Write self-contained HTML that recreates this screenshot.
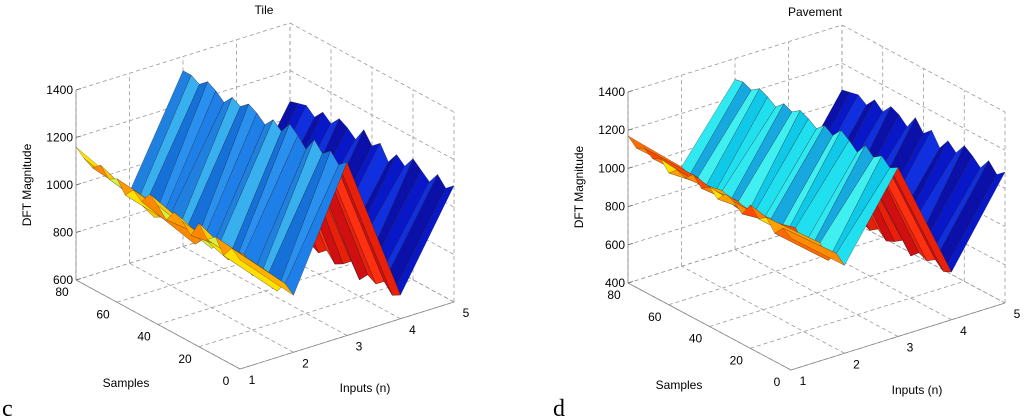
<!DOCTYPE html>
<html><head><meta charset="utf-8"><style>
html,body{margin:0;padding:0;background:#fff;}
svg{display:block;font-family:"Liberation Sans",Arial,sans-serif;}
</style></head><body>
<svg id="c" width="1024" height="418" viewBox="0 0 1024 418" xmlns="http://www.w3.org/2000/svg">
<text x="264" y="14" font-size="12" text-anchor="middle">Tile</text>
<text x="815" y="16" font-size="12" text-anchor="middle">Pavement</text>
<text x="31" y="185" font-size="12" text-anchor="middle" transform="rotate(-90 31 185)">DFT Magnitude</text>
<text x="583" y="187" font-size="12" text-anchor="middle" transform="rotate(-90 583 187)">DFT Magnitude</text>
<text x="126" y="387" font-size="12" text-anchor="middle">Samples</text>
<text x="679" y="389" font-size="12" text-anchor="middle">Samples</text>
<text x="365" y="392" font-size="12" text-anchor="middle">Inputs (n)</text>
<text x="917" y="394" font-size="12" text-anchor="middle">Inputs (n)</text>
<text x="2" y="416" font-size="24" font-family="Liberation Serif,serif">c</text>
<text x="553" y="416" font-size="24" font-family="Liberation Serif,serif">d</text>
<g id="g1"></g>
<g id="g2"></g>
</svg>
<script>
const sampleTicks=[0,20,40,60,80];
const inputTicks=[1,2,3,4,5];
const sampleValues=[0,4,8,12,16,20,24,28,32,36,40,44,48,52,56,60,64,68,72,76,80];
const tileZTicks=[600,800,1000,1200,1400];
const paveZTicks=[400,600,800,1000,1200,1400];
const tileN1=[1060,1090,1040,1100,1070,1120,1050,1090,1110,1060,1100,1130,1080,1110,1070,1120,1100,1140,1110,1130,1160];
const tileN2=[840,870,820,880,850,830,900,860,840,890,850,870,830,880,860,900,870,850,890,880,900];
const tileN3=[1330,1300,1340,1310,1350,1290,1330,1360,1310,1340,1300,1330,1350,1320,1340,1300,1330,1350,1320,1340,1340];
const tileN4=[700,680,720,690,710,670,730,700,680,720,690,710,740,700,680,720,700,690,710,700,690];
const tileN5=[1090,1060,1100,1050,1080,1110,1060,1090,1040,1100,1070,1120,1060,1090,1110,1070,1100,1060,1090,1080,1070];
const paveN1=[1090,1120,1070,1130,1100,1150,1080,1120,1140,1090,1130,1100,1150,1110,1130,1090,1140,1120,1150,1130,1170];
const paveN2=[860,900,840,910,870,850,920,880,860,900,870,890,850,900,880,910,870,890,910,900,920];
const paveN3=[1285,1260,1300,1270,1310,1250,1290,1320,1270,1300,1260,1290,1310,1280,1300,1260,1290,1310,1280,1300,1290];
const paveN4=[650,630,670,640,660,620,680,650,630,670,640,660,690,650,630,670,650,640,660,650,640];
const paveN5=[1086,1050,1100,1040,1080,1110,1050,1090,1030,1100,1060,1120,1050,1090,1110,1060,1100,1050,1080,1070,1060];

const NS='http://www.w3.org/2000/svg';
function mk(g,tag,at){const e=document.createElementNS(NS,tag);for(const k in at)e.setAttribute(k,at[k]);g.appendChild(e);return e;}

function drawChart(g,geo,zTicks,rows,pal,prefix){
  const zmin=zTicks[0],zmax=zTicks[zTicks.length-1];
  const k=geo.zh/(zmax-zmin);
  const P=(s,n,z)=>[geo.ox+geo.sx*s/80+geo.nx*(n-1)/4, geo.oy+geo.sy*s/80+geo.ny*(n-1)/4-(z-zmin)*k];
  const line=(a,b,dash,name,col)=>{const l=mk(g,'line',{x1:a[0],y1:a[1],x2:b[0],y2:b[1],stroke:col||'#9a9a9a','stroke-width':0.8});
    if(dash)l.setAttribute('stroke-dasharray','4,3');
    
    return l;};
  // grids
  sampleTicks.forEach(s=>{line(P(s,1,zmin),P(s,5,zmin),true,prefix+'-floor-grid-s');line(P(s,5,zmin),P(s,5,zmax),true,prefix+'-wall-grid-s');});
  inputTicks.forEach(n=>{line(P(0,n,zmin),P(80,n,zmin),true,prefix+'-floor-grid-n');line(P(80,n,zmin),P(80,n,zmax),true,prefix+'-wall-grid-n');});
  zTicks.forEach(z=>{line(P(80,1,z),P(80,5,z),true,prefix+'-back-grid-z');line(P(80,5,z),P(0,5,z),true,prefix+'-side-grid-z');});
  // axes
  line(P(80,1,zmin),P(80,1,zmax),false,prefix+'-z-axis','#888');
  line(P(0,1,zmin),P(80,1,zmin),false,prefix+'-samples-axis','#888');
  line(P(0,1,zmin),P(0,5,zmin),false,prefix+'-inputs-axis','#888');
  zTicks.forEach(z=>{const p=P(80,1,z);line(p,[p[0]+5,p[1]-1.5],false,prefix+'-z-tick','#666');
    const t=mk(g,'text',{x:p[0]-3,y:p[1]+4,'font-size':12,'text-anchor':'end'});t.textContent=z;
    
    });
  sampleTicks.forEach(s=>{const p=P(s,1,zmin);
    const t=mk(g,'text',{x:p[0]-14,y:p[1]+16,'font-size':12,'text-anchor':'middle'});t.textContent=s;
    
    });
  inputTicks.forEach(n=>{const p=P(0,n,zmin);
    const t=mk(g,'text',{x:p[0]+12,y:p[1]+15,'font-size':12,'text-anchor':'middle'});t.textContent=n;
    
    });
  // surface quads
  const quads=[];
  for(let i=0;i<sampleValues.length-1;i++)for(let j=0;j<4;j++){
    const s0=sampleValues[i],s1=sampleValues[i+1],n0=j+1,n1=j+2;
    const d=((s0+s1)/2)/80+((n0+n1)/2-1)/4;
    quads.push({d,i,j,pts:[P(s0,n0,rows[j][i]),P(s1,n0,rows[j][i+1]),P(s1,n1,rows[j+1][i+1]),P(s0,n1,rows[j+1][i])]});
  }
  quads.sort((a,b)=>b.d-a.d);
  quads.forEach(q=>{const c=pal[q.j][q.i%pal[q.j].length];
    const e=mk(g,'polygon',{points:q.pts.map(p=>p[0].toFixed(1)+','+p[1].toFixed(1)).join(' '),fill:c,stroke:'#1a1a1a','stroke-width':0.35,'stroke-opacity':0.7,'stroke-linejoin':'round'});
    
    });
}
const tilePal=[['#ffb000','#ffe000','#ff9a00','#d8f040','#ffc800','#ff8800'],['#1f7fe8','#2a90f0','#1570d8','#38b0f0','#2080e0'],['#e8200a','#d01010','#ff3010'],['#0818c8','#0a10a8','#1030e0']];
const pavePal=[['#ff8c00','#ff6a00','#ffa000','#ffe000','#ff7a00','#ff4a00'],['#20e0f0','#10c8e8','#40f0f0','#18a8e0','#30e8f0'],['#e8200a','#d01010','#ff3010'],['#0818c8','#0a10a8','#1030e0']];
drawChart(document.getElementById('g1'),{ox:240,oy:369,sx:-164,sy:-89,nx:214,ny:-67,zh:190},tileZTicks,[tileN1,tileN2,tileN3,tileN4,tileN5],tilePal,'tile');
drawChart(document.getElementById('g2'),{ox:791,oy:370,sx:-163,sy:-87,nx:214,ny:-67,zh:191},paveZTicks,[paveN1,paveN2,paveN3,paveN4,paveN5],pavePal,'pavement');
</script>
</body></html>
